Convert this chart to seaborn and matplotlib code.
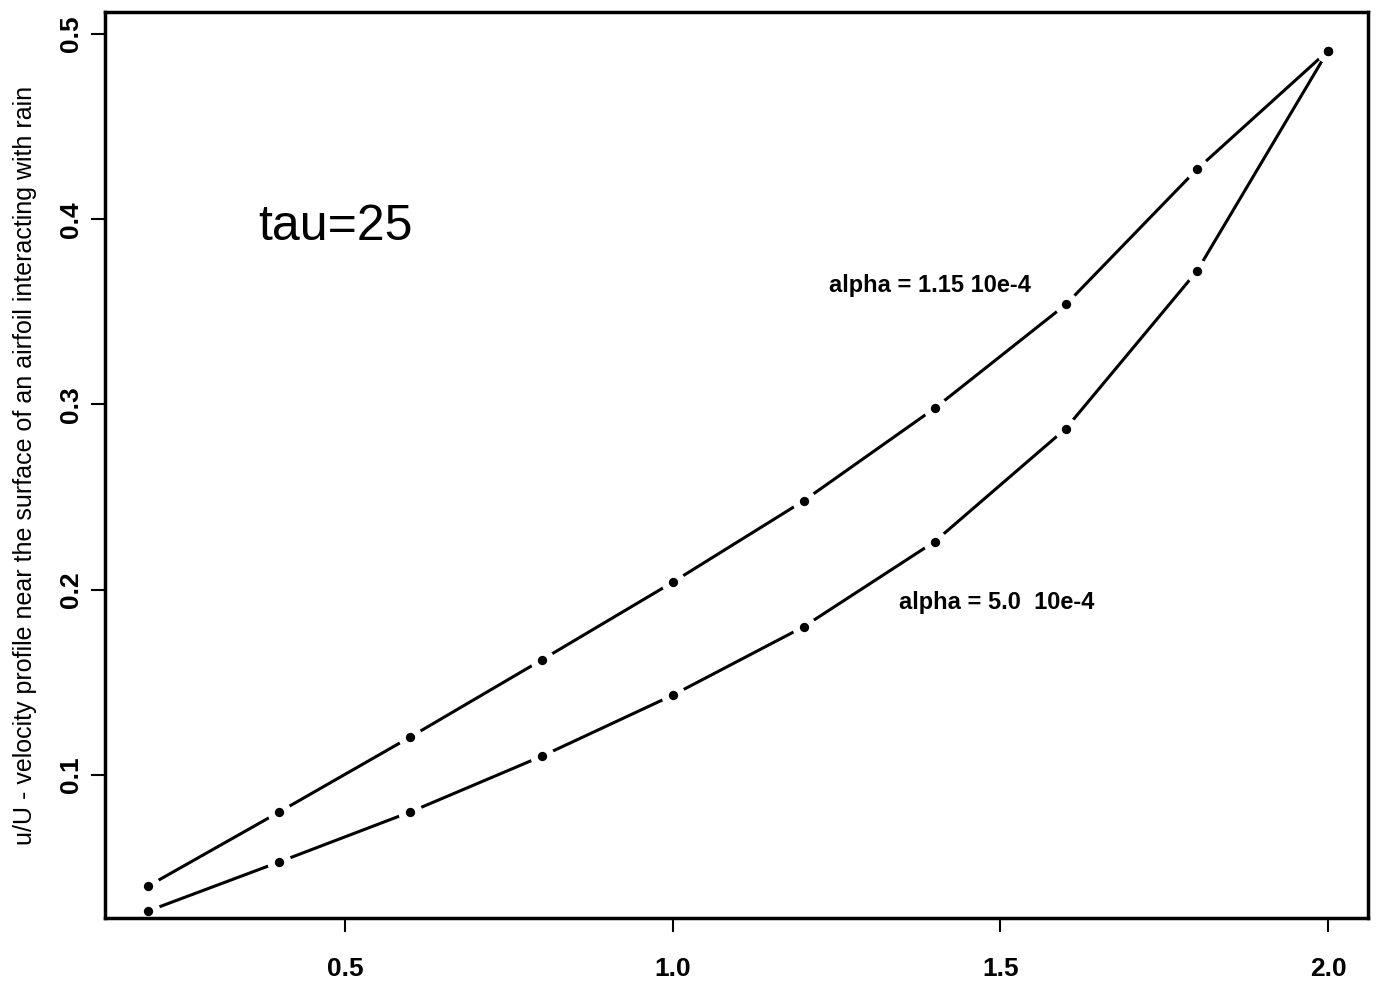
import pandas as pd
import seaborn as sns
import matplotlib.pyplot as plt

x = [0.2, 0.4, 0.6, 0.8, 1.0, 1.2, 1.4, 1.6, 1.8, 2.0]
u_low_alpha = [0.040, 0.080, 0.1205, 0.162, 0.204, 0.248, 0.298, 0.354, 0.427, 0.491]
u_high_alpha = [0.0265, 0.053, 0.080, 0.110, 0.143, 0.180, 0.226, 0.287, 0.372, 0.491]
labels = ["alpha = 1.15 10e-4", "alpha = 5.0  10e-4"]

df = pd.concat([
    pd.DataFrame({"x": x, "u": u_low_alpha, "series": labels[0]}),
    pd.DataFrame({"x": x, "u": u_high_alpha, "series": labels[1]}),
])

sns.set_style("white")
plt.rcParams["font.family"] = ["Liberation Sans", "DejaVu Sans"]
plt.rcParams["text.color"] = "black"
plt.rcParams["axes.labelcolor"] = "black"
plt.rcParams["xtick.color"] = "black"
plt.rcParams["ytick.color"] = "black"

fig = plt.figure(figsize=(13.86, 9.92), dpi=100)
ax = fig.add_axes([0.0758, 0.0746, 0.9112, 0.9134])

pal = {labels[0]: "black", labels[1]: "black"}
sns.lineplot(data=df, x="x", y="u", hue="series", palette=pal, lw=2.2,
             legend=False, ax=ax, sort=False, estimator=None, zorder=2)
# white halo so the lines break around each point, like R type="b"
sns.scatterplot(data=df, x="x", y="u", color="white", s=300, linewidth=0,
                legend=False, ax=ax, zorder=2.1)
sns.scatterplot(data=df, x="x", y="u", color="black", s=45, linewidth=0,
                legend=False, ax=ax, zorder=2.2)

ax.set_xlim(0.134, 2.061)
ax.set_ylim(0.0227, 0.512)
ax.set_xticks([0.5, 1.0, 1.5, 2.0])
ax.set_xticklabels(["0.5", "1.0", "1.5", "2.0"])
ax.set_yticks([0.1, 0.2, 0.3, 0.4, 0.5])
ax.set_yticklabels(["0.1", "0.2", "0.3", "0.4", "0.5"], rotation=90, va="center")
ax.tick_params(direction="out", length=10, width=1.5, labelsize=19,
               bottom=True, left=True)
ax.tick_params(axis="x", pad=18)
ax.tick_params(axis="y", pad=6)
for t in ax.get_xticklabels() + ax.get_yticklabels():
    t.set_fontweight("bold")
for s in ax.spines.values():
    s.set_linewidth(2.5)
    s.set_color("black")
    s.set_zorder(3)

ax.set_xlabel("")
ax.set_ylabel("u/U - velocity profile near the surface of an airfoil interacting with rain",
              fontsize=18, labelpad=16)

ax.text(0.367, 0.396, "tau=25", fontsize=36, va="center", ha="left")
ax.text(1.239, 0.364, labels[0], fontsize=17, fontweight="bold", va="center", ha="left")
ax.text(1.346, 0.193, labels[1], fontsize=17, fontweight="bold", va="center", ha="left")

fig.savefig("out.png", dpi=100)
